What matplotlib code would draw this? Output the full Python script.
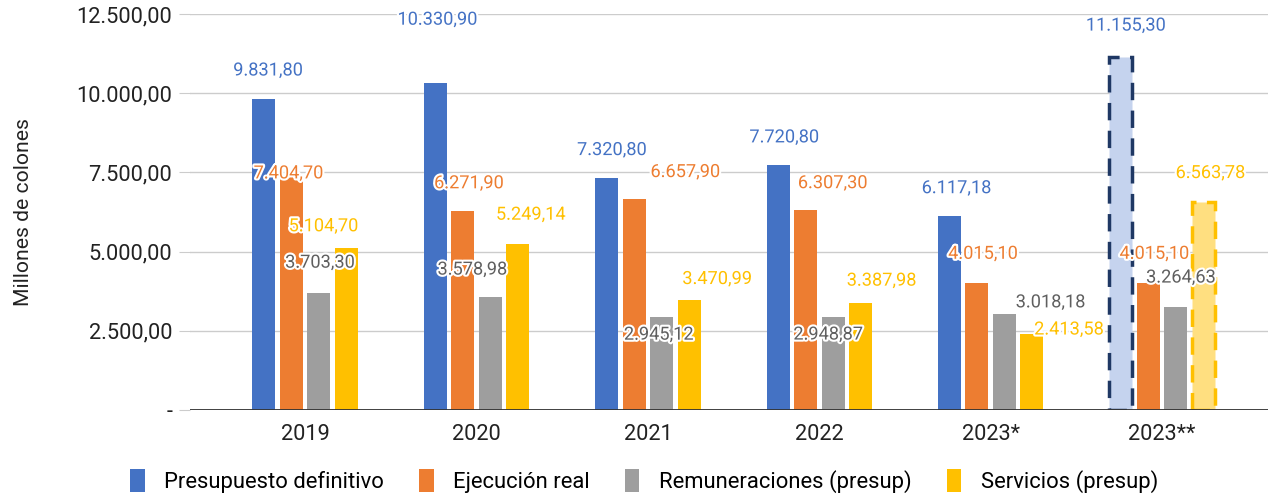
import numpy as np
import matplotlib
matplotlib.use("Agg")
import matplotlib.pyplot as plt
import matplotlib.patheffects as pe
from matplotlib.patches import Patch

plt.rcParams['font.family'] = ['Roboto', 'DejaVu Sans']

years = ["2019", "2020", "2021", "2022", "2023*", "2023**"]
series_names = ["Presupuesto definitivo", "Ejecución real",
                "Remuneraciones (presup)", "Servicios (presup)"]
presupuesto = [9831.80, 10330.90, 7320.80, 7720.80, 6117.18, 11155.30]
ejecucion = [7404.70, 6271.90, 6657.90, 6307.30, 4015.10, 4015.10]
remuneraciones = [3703.30, 3578.98, 2945.12, 2948.87, 3018.18, 3264.63]
servicios = [5104.70, 5249.14, 3470.99, 3387.98, 2413.58, 6563.78]

bar_colors = ["#4472C4", "#ED7D31", "#9E9E9E", "#FFC000"]
label_colors = ["#4472C4", "#ED7D31", "#5F5F5F", "#FFC000"]

# label offsets in pixels from the bar top (dx, dy up), per series per year
label_offsets = [
    [(4, 28), (2, 63), (5, 28), (6, 28), (7, 28), (5, 31)],
    [(-3, 2), (6, 28), (51, 27), (27, 27), (6, 29), (6, 29)],
    [(1, 30), (-18, 27), (-3, -18), (-5, -18), (46, 12), (5, 29)],
    [(-23, 22), (13, 29), (28, 21), (21, 22), (37, 4), (7, 29)],
]


def fmt(v):
    s = f"{v:,.2f}"
    return s.replace(",", "X").replace(".", ",").replace("X", ".")


fig = plt.figure(figsize=(12.68, 4.96), dpi=100)
ax = fig.add_axes([0.150, 0.1734, 0.850, 0.7984])

x = np.arange(len(years))
all_series = [presupuesto, ejecucion, remuneraciones, servicios]
step = 0.1604
width = 0.134

for i, vals in enumerate(all_series):
    xs = x + (i - 1.5) * step
    ax.bar(xs, vals, width, color=bar_colors[i], zorder=3)
    for j, (bx, v) in enumerate(zip(xs, vals)):
        dx, dy = label_offsets[i][j]
        ax.annotate(fmt(v), xy=(bx, v), xytext=(dx, dy),
                    textcoords='offset pixels', ha='center', va='center',
                    fontsize=13.1, color=label_colors[i], zorder=5,
                    path_effects=[pe.withStroke(linewidth=3, foreground='white')])

# projected bars in the last group
last = len(years) - 1
b0 = ax.patches[last]
b0.set_facecolor("#C5D3EE")
b0.set_edgecolor("#1F3864")
b0.set_linewidth(2.5)
b0.set_linestyle((0, (5, 3)))
b3 = ax.patches[3 * len(years) + last]
b3.set_facecolor("#FFDF80")
b3.set_edgecolor("#FFC000")
b3.set_linewidth(2.5)
b3.set_linestyle((0, (5, 3)))

ax.set_xlim(-0.671, 5.618)
ax.set_ylim(0, 12500)
yt = [0, 2500, 5000, 7500, 10000, 12500]
ax.set_yticks(yt)
ax.set_yticklabels(["-"] + [fmt(v) for v in yt[1:]])
ax.set_xticks(x)
ax.set_xticklabels(years)
ax.tick_params(axis='y', length=8, color='#CCCCCC', labelsize=15.7, pad=5, labelcolor='#222222')
ax.tick_params(axis='x', length=0, labelsize=15.7, pad=10, labelcolor='#222222')
ax.grid(axis='y', color='#CCCCCC', linewidth=1, zorder=0)
ax.set_axisbelow(True)
for s in ax.spines.values():
    s.set_visible(False)
ax.axhline(0, color='#333333', linewidth=1.3, zorder=4)

ax.set_ylabel("Millones de colones", fontsize=15.2, color='#222222')
ax.yaxis.set_label_coords(-0.146, 0.5)

handles = [Patch(facecolor=c) for c in bar_colors]
fig.legend(handles, series_names, loc='center', bbox_to_anchor=(0.508, 0.03),
           ncol=4, frameon=False, fontsize=15.8, handlelength=0.65, handleheight=1.2,
           columnspacing=1.6, handletextpad=0.9)

fig.savefig("out.png", dpi=100)
